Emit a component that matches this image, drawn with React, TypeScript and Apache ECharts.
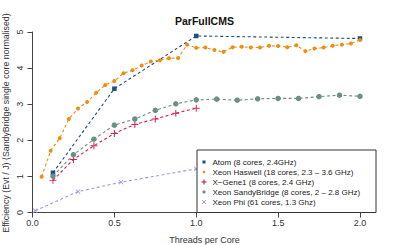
import React, { useEffect, useRef } from "react";
import * as echarts from "echarts";

const titleText = "ParFullCMS";
const xAxisTitle = "Threads per Core";
const yAxisTitle = "Efficiency (Evt / J) (SandyBridge single core normalised)";
const xTicks = [0, 0.5, 1, 1.5, 2];
const yTicks = [0, 1, 2, 3, 4, 5];

const seriesNames = [
  "Atom (8 cores, 2.4GHz)",
  "Xeon Haswell (18 cores, 2.3 \u2013 3.6 GHz)",
  "X\u2212Gene1 (8 cores, 2.4 GHz)",
  "Xeon SandyBridge (8 cores, 2 \u2013 2.8 GHz)",
  "Xeon Phi (61 cores, 1.3 Ghz)",
];
const seriesColors = ["#1d4f7c", "#f08c12", "#d42456", "#6b8f82", "#a597e4"];

const atomX = [0.125, 0.5, 1.0, 2.0];
const atomY = [1.1, 3.43, 4.89, 4.82];

const haswellX = [
  0.0556, 0.1111, 0.1667, 0.2222, 0.2778, 0.3333, 0.3889, 0.4444, 0.5, 0.5556, 0.6111, 0.6667,
  0.7222, 0.7778, 0.8333, 0.8889, 0.9444, 1.0, 1.0556, 1.1111, 1.1667, 1.2222, 1.2778, 1.3333,
  1.3889, 1.4444, 1.5, 1.5556, 1.6111, 1.6667, 1.7222, 1.7778, 1.8333, 1.8889, 1.9444, 2.0,
];
const haswellY = [
  0.99, 1.71, 2.06, 2.59, 2.88, 3.06, 3.32, 3.53, 3.64, 3.86, 3.94, 4.07, 4.18, 4.22, 4.27, 4.28,
  4.65, 4.56, 4.57, 4.5, 4.45, 4.58, 4.59, 4.57, 4.57, 4.62, 4.61, 4.58, 4.63, 4.47, 4.54, 4.57,
  4.62, 4.65, 4.68, 4.78,
];

const xgeneX = [0.125, 0.25, 0.375, 0.5, 0.625, 0.75, 0.875, 1.0];
const xgeneY = [0.89, 1.47, 1.85, 2.19, 2.44, 2.59, 2.75, 2.89];

const sandyX = [
  0.125, 0.25, 0.375, 0.5, 0.625, 0.75, 0.875, 1.0, 1.125, 1.25, 1.375, 1.5, 1.625, 1.75, 1.875, 2.0,
];
const sandyY = [
  1.01, 1.6, 2.03, 2.42, 2.59, 2.83, 3.01, 3.12, 3.14, 3.11, 3.15, 3.16, 3.16, 3.21, 3.25, 3.22,
];

const phiX = [0.0164, 0.2787, 0.541, 1.0];
const phiY = [0.05, 0.58, 0.84, 1.21];

const PLUS =
  "path://M-0.14,-1 L0.14,-1 L0.14,-0.14 L1,-0.14 L1,0.14 L0.14,0.14 L0.14,1 L-0.14,1 L-0.14,0.14 L-1,0.14 L-1,-0.14 L-0.14,-0.14 Z";

const zip = (xs: number[], ys: number[]) => xs.map((x, i) => [x, ys[i]]);

export default function App() {
  const ref = useRef<HTMLDivElement>(null);
  useEffect(() => {
    if (!ref.current) return;
    const chart = echarts.init(ref.current, null, { renderer: "svg" });
    const FONT = "Liberation Sans";
    const dataSets = [
      zip(atomX, atomY),
      zip(haswellX, haswellY),
      zip(xgeneX, xgeneY),
      zip(sandyX, sandyY),
      zip(phiX, phiY),
    ];
    const symbols = ["rect", "circle", PLUS, "circle", PLUS];
    const sizes = [4.5, 4, 7, 5.5, 6];
    const rotates = [0, 0, 0, 0, 45];
    const series = dataSets.map((d, i) => ({
      type: "line",
      name: seriesNames[i],
      data: d,
      symbol: symbols[i],
      symbolSize: sizes[i],
      symbolRotate: rotates[i],
      showAllSymbol: true,
      lineStyle: { color: seriesColors[i], width: 1.1, type: [3, 2.5] },
      itemStyle: { color: seriesColors[i] },
      clip: false,
      z: 2 + i,
    }));

    const legendX = 197;
    const legendY = 150;
    const legendItems: any[] = [
      {
        type: "rect",
        shape: { x: legendX, y: legendY, width: 179, height: 62.5 },
        style: { fill: "#fff", stroke: "#333", lineWidth: 1 },
        z: 10,
      },
    ];
    seriesNames.forEach((name, i) => {
      const cy = 162 + i * 10;
      const cx = 204;
      const c = seriesColors[i];
      if (i === 0) {
        legendItems.push({ type: "rect", shape: { x: cx - 1.5, y: cy - 1.5, width: 3, height: 3 }, style: { fill: c }, z: 11 });
      } else if (i === 1) {
        legendItems.push({ type: "circle", shape: { cx, cy, r: 1.3 }, style: { fill: c }, z: 11 });
      } else if (i === 3) {
        legendItems.push({ type: "circle", shape: { cx, cy, r: 1.6 }, style: { fill: c }, z: 11 });
      } else if (i === 2) {
        legendItems.push({ type: "line", shape: { x1: cx - 2.5, y1: cy, x2: cx + 2.5, y2: cy }, style: { stroke: c, lineWidth: 1.2 }, z: 11 });
        legendItems.push({ type: "line", shape: { x1: cx, y1: cy - 2.5, x2: cx, y2: cy + 2.5 }, style: { stroke: c, lineWidth: 1.2 }, z: 11 });
      } else {
        legendItems.push({ type: "line", shape: { x1: cx - 2, y1: cy - 2, x2: cx + 2, y2: cy + 2 }, style: { stroke: c, lineWidth: 1 }, z: 11 });
        legendItems.push({ type: "line", shape: { x1: cx - 2, y1: cy + 2, x2: cx + 2, y2: cy - 2 }, style: { stroke: c, lineWidth: 1 }, z: 11 });
      }
      legendItems.push({
        type: "text",
        x: 212.5,
        y: cy,
        style: { text: name, fontFamily: FONT, fontSize: 8, fill: "#222", verticalAlign: "middle", textAlign: "left" },
        z: 11,
      });
    });

    chart.setOption({
      animation: false,
      backgroundColor: "#fff",
      title: {
        text: titleText,
        left: "center",
        top: 10,
        textStyle: { fontFamily: FONT, fontSize: 10.5, fontWeight: "bold", color: "#111" },
      },
      grid: { left: 32.5, right: 49, top: 32, bottom: 32.5 },
      xAxis: {
        type: "value",
        min: xTicks[0],
        max: xTicks[xTicks.length - 1],
        interval: 0.5,
        axisLine: { show: true, lineStyle: { color: "#444", width: 1 } },
        axisTick: { show: true, length: 5, lineStyle: { color: "#444" } },
        splitLine: { show: false },
        axisLabel: {
          fontFamily: FONT,
          fontSize: 9,
          color: "#333",
          margin: 6,
          formatter: (v: number) => v.toFixed(1),
        },
      },
      yAxis: {
        type: "value",
        min: yTicks[0],
        max: yTicks[yTicks.length - 1],
        interval: 1,
        axisLine: { show: true, lineStyle: { color: "#444", width: 1 } },
        axisTick: { show: true, length: 5, lineStyle: { color: "#444" } },
        splitLine: { show: false },
        axisLabel: { fontFamily: FONT, fontSize: 9, color: "#333", margin: 8, rotate: 90 },
      },
      graphic: [
        {
          type: "text",
          x: 204.5,
          y: 240,
          style: { text: xAxisTitle, fontFamily: FONT, fontSize: 9, fill: "#333", textAlign: "center", verticalAlign: "middle" },
        },
        {
          type: "text",
          x: 6,
          y: 123,
          rotation: Math.PI / 2,
          style: { text: yAxisTitle, fontFamily: FONT, fontSize: 8.8, fill: "#333", textAlign: "center", verticalAlign: "middle" },
        },
        ...legendItems,
      ],
      series,
    });
    return () => chart.dispose();
  }, []);
  return (
    <div
      ref={ref}
      style={{ position: "fixed", left: 0, top: 0, width: 409, height: 245, background: "#fff" }}
    />
  );
}
